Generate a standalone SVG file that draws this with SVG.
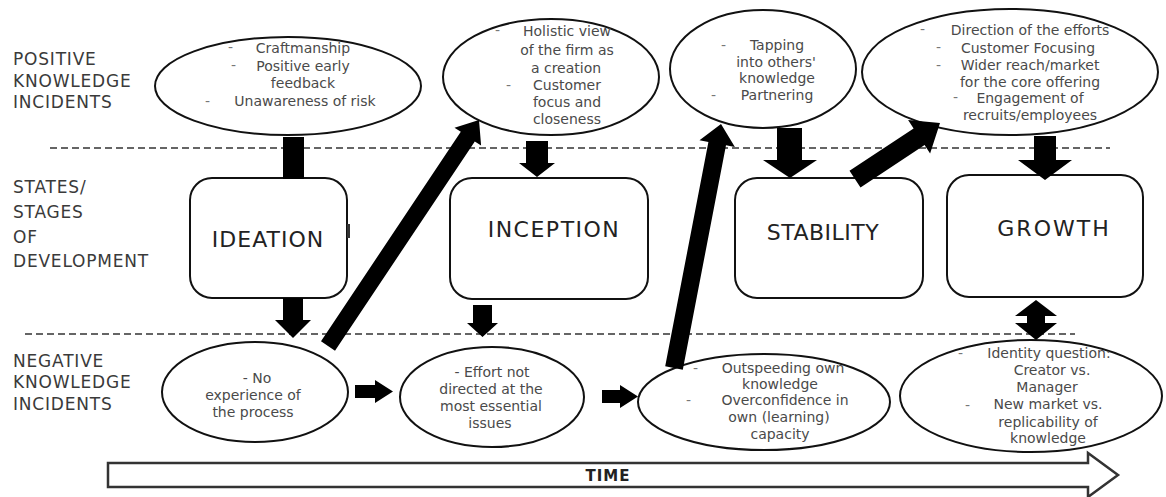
<svg xmlns="http://www.w3.org/2000/svg" width="1166" height="497" viewBox="0 0 1166 497">
<style>
.bg{fill:#ffffff}
.dash{stroke:#333;stroke-width:1.5;stroke-dasharray:7 4;fill:none}
.ell{fill:#ffffff;stroke:#111;stroke-width:2}
.box{fill:#ffffff;stroke:#111;stroke-width:2}
.arr{fill:#000}
.lbl{font-family:"DejaVu Sans",sans-serif;font-size:17px;fill:#3a3a3a;letter-spacing:0.8px}
.et{font-family:"DejaVu Sans",sans-serif;font-size:14px;fill:#4a4a4a;text-anchor:middle}
.dsh{font-family:"DejaVu Sans",sans-serif;font-size:14px;fill:#777}
.bt{font-family:"DejaVu Sans",sans-serif;font-size:22px;fill:#222;text-anchor:middle}
.time{font-family:"DejaVu Sans",sans-serif;font-size:15px;font-weight:bold;fill:#222;text-anchor:middle;letter-spacing:1px}
</style>
<rect class="bg" x="0" y="0" width="1166" height="497"/>

<g id="row-labels">
<text class="lbl" x="13" y="65">POSITIVE</text>
<text class="lbl" x="13" y="87">KNOWLEDGE</text>
<text class="lbl" x="13" y="108">INCIDENTS</text>
<text class="lbl" x="13" y="193">STATES/</text>
<text class="lbl" x="13" y="218">STAGES</text>
<text class="lbl" x="13" y="243">OF</text>
<text class="lbl" x="13" y="267">DEVELOPMENT</text>
<text class="lbl" x="13" y="367">NEGATIVE</text>
<text class="lbl" x="13" y="388">KNOWLEDGE</text>
<text class="lbl" x="13" y="410">INCIDENTS</text>
</g>

<g id="separators">
<line class="dash" x1="50" y1="148" x2="1110" y2="148"/>
<line class="dash" x1="25" y1="334" x2="1075" y2="334"/>
</g>

<g id="pos1">
<ellipse class="ell" cx="288" cy="86" rx="133" ry="49"/>
<text class="dsh" x="228" y="52">-</text>
<text class="et" x="303" y="53">Craftmanship</text>
<text class="dsh" x="231" y="70">-</text>
<text class="et" x="303" y="71">Positive early</text>
<text class="et" x="303" y="88">feedback</text>
<text class="dsh" x="205" y="106">-</text>
<text class="et" x="305" y="106">Unawareness of risk</text>
</g>

<g id="pos2">
<ellipse class="ell" cx="551" cy="77" rx="108" ry="58"/>
<text class="dsh" x="495" y="35">-</text>
<text class="et" x="567" y="36">Holistic view</text>
<text class="et" x="567" y="55">of the firm as</text>
<text class="et" x="566" y="73">a creation</text>
<text class="dsh" x="506" y="90">-</text>
<text class="et" x="567" y="90">Customer</text>
<text class="et" x="567" y="107">focus and</text>
<text class="et" x="567" y="124">closeness</text>
</g>

<g id="pos3">
<ellipse class="ell" cx="763" cy="69" rx="93" ry="59"/>
<text class="dsh" x="721" y="50">-</text>
<text class="et" x="777" y="50">Tapping</text>
<text class="et" x="776" y="67">into others'</text>
<text class="et" x="777" y="83">knowledge</text>
<text class="dsh" x="711" y="100">-</text>
<text class="et" x="777" y="100">Partnering</text>
</g>

<g id="pos4">
<ellipse class="ell" cx="1010" cy="72" rx="148" ry="63"/>
<text class="dsh" x="920" y="34">-</text>
<text class="et" x="1030" y="35">Direction of the efforts</text>
<text class="dsh" x="936" y="52">-</text>
<text class="et" x="1028" y="53">Customer Focusing</text>
<text class="dsh" x="936" y="70">-</text>
<text class="et" x="1030" y="70">Wider reach/market</text>
<text class="et" x="1030" y="87">for the core offering</text>
<text class="dsh" x="953" y="102">-</text>
<text class="et" x="1030" y="103">Engagement of</text>
<text class="et" x="1030" y="120">recruits/employees</text>
</g>

<g id="ideation">
<rect class="box" x="190" y="178" width="157" height="120" rx="22"/>
<rect x="347" y="224" width="3" height="14" fill="#333"/>
<text class="bt" x="268" y="247" style="letter-spacing:1px">IDEATION</text>
</g>

<g id="inception">
<rect class="box" x="450" y="178" width="198" height="121" rx="22"/>
<text class="bt" x="554" y="237" style="letter-spacing:1.5px">INCEPTION</text>
</g>

<g id="stability">
<rect class="box" x="735" y="178" width="188" height="120" rx="22"/>
<text class="bt" x="823" y="240" style="letter-spacing:0.5px">STABILITY</text>
</g>

<g id="growth">
<rect class="box" x="947" y="175" width="196" height="122" rx="22"/>
<text class="bt" x="1054" y="236" style="letter-spacing:2px">GROWTH</text>
</g>

<g id="neg1">
<ellipse class="ell" cx="255" cy="392" rx="93" ry="50"/>
<text class="et" x="257" y="383">- No</text>
<text class="et" x="253" y="400">experience of</text>
<text class="et" x="253" y="417">the process</text>
</g>

<g id="neg2">
<ellipse class="ell" cx="492" cy="397" rx="92" ry="50"/>
<text class="et" x="492" y="377">- Effort not</text>
<text class="et" x="491" y="394">directed at the</text>
<text class="et" x="491" y="411">most essential</text>
<text class="et" x="490" y="428">issues</text>
</g>

<g id="neg3">
<ellipse class="ell" cx="764" cy="402" rx="126" ry="48"/>
<text class="dsh" x="693" y="373">-</text>
<text class="et" x="783" y="373">Outspeeding own</text>
<text class="et" x="780" y="389">knowledge</text>
<text class="dsh" x="686" y="405">-</text>
<text class="et" x="785" y="405">Overconfidence in</text>
<text class="et" x="779" y="422">own (learning)</text>
<text class="et" x="780" y="439">capacity</text>
</g>

<g id="neg4">
<ellipse class="ell" cx="1031" cy="396" rx="131" ry="56"/>
<text class="dsh" x="958" y="358">-</text>
<text class="et" x="1049" y="358">Identity question:</text>
<text class="et" x="1052" y="375">Creator vs.</text>
<text class="et" x="1047" y="392">Manager</text>
<text class="dsh" x="965" y="410">-</text>
<text class="et" x="1048" y="409">New market vs.</text>
<text class="et" x="1048" y="427">replicability of</text>
<text class="et" x="1048" y="443">knowledge</text>
</g>

<g id="connectors">
<rect class="arr" x="283" y="137" width="21" height="42"/>
<polygon class="arr" points="283,298 303,298 303,320 311,320 293,338 275,320 283,320"/>
<polygon class="arr" points="335,350.8 474.8,141.4 481.1,145.5 479,120 454.5,127.7 460.8,131.8 321,341.2"/>
<polygon class="arr" points="526,141 548,141 548,163 555,163 537,177 519,163 526,163"/>
<polygon class="arr" points="473,305 492,305 492,323 498,323 482.5,337 467,323 473,323"/>
<polygon class="arr" points="355,385 375,385 375,380 393,391.5 375,403 375,398 355,398"/>
<polygon class="arr" points="602,390 620,390 620,385 638,396.5 620,408 620,403 602,403"/>
<polygon class="arr" points="682.8,369.7 726,145.3 734.9,147 721,124 699.5,140.2 708.4,141.9 665.2,366.3"/>
<polygon class="arr" points="777,128 802,128 802,160 817,160 790,178 763,160 777,160"/>
<polygon class="arr" points="860.5,187.4 924.6,145.1 930.1,153.5 940,123 908.1,120.1 913.6,128.5 849.5,170.7"/>
<polygon class="arr" points="1034,136 1056,136 1056,160 1072,160 1045,180 1018,160 1034,160"/>
<polygon class="arr" points="1036,300 1057,316 1045,316 1045,323 1057,323 1036,340 1015,323 1027,323 1027,316 1015,316"/>
</g>

<g id="time-axis">
<polygon points="108,463 1088,463 1088,453 1118,475 1088,497 1088,487 108,487" fill="#ffffff" stroke="#333" stroke-width="2.5"/>
<text class="time" x="608" y="481">TIME</text>
</g>
</svg>
